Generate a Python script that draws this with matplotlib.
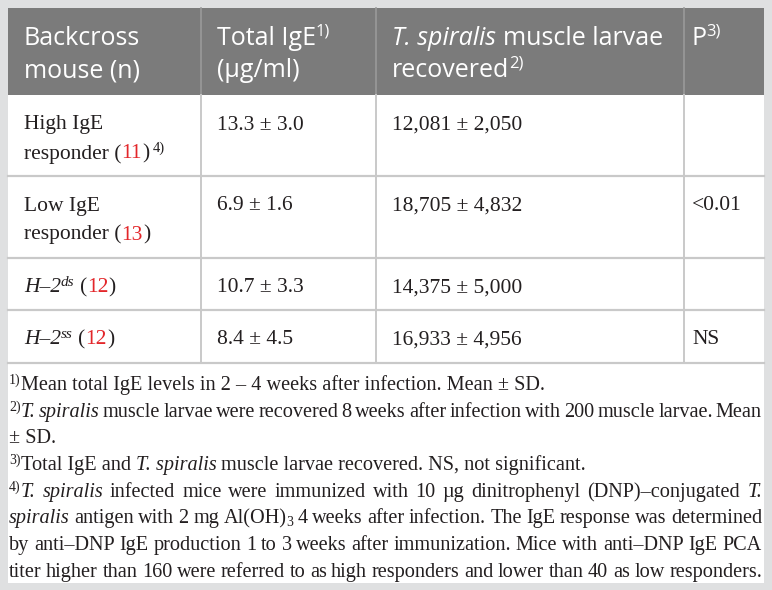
import matplotlib
matplotlib.use("Agg")
import matplotlib.pyplot as plt
from matplotlib.patches import Rectangle
from matplotlib.font_manager import FontProperties, findfont, get_font
from matplotlib.ft2font import LOAD_NO_HINTING

# ---------------- data ----------------
header_line1 = ["Backcross", "Total IgE", "T. spiralis muscle larvae", "P"]
header_line2 = ["mouse (n)", "(µg/ml)", "recovered", ""]
header_sups = [["", ""], ["1)", ""], ["", "2)"], ["3)", ""]]
group_names = ["High IgE responder", "Low IgE responder", "H–2ds", "H–2ss"]
n_mice = [11, 13, 12, 12]
ige_mean = [13.3, 6.9, 10.7, 8.4]
ige_sd = [3.0, 1.6, 3.3, 4.5]
larvae_mean = [12081, 18705, 14375, 16933]
larvae_sd = [2050, 4832, 5000, 4956]
p_values = ["", "<0.01", "", "NS"]

W, H = 772, 590
BG = "#dfe0e1"
HEAD = "#7b7b7b"
GRID = "#c9c9c9"
TXT = "#231f20"
RED = "#e3262a"

SANS = "Open Sans"
SERIF = "Liberation Serif"

fig = plt.figure(figsize=(W / 100, H / 100), dpi=100)
fig.patch.set_facecolor(BG)
ax = fig.add_axes([0, 0, 1, 1])
ax.set_xlim(0, W)
ax.set_ylim(H, 0)
ax.axis("off")

# geometry
L, R, T, B = 8, 764, 8, 583
head_bot = 95
row_lines = [176, 258, 310, 363]
col_lines = [201, 376, 684]
col_text_x = [24, 217, 392, 692]

ax.add_patch(Rectangle((L, T), R - L, B - T, facecolor="white", edgecolor="none", zorder=0))
ax.add_patch(Rectangle((L, T), R - L, head_bot - T, facecolor=HEAD, edgecolor="none", zorder=1))
for x in col_lines:
    ax.plot([x, x], [T, head_bot], color="#9a9a9a", lw=1.2, zorder=2)
    ax.plot([x, x], [head_bot, row_lines[-1]], color=GRID, lw=1.4, zorder=2)
for y in row_lines:
    ax.plot([L, R], [y, y], color=GRID, lw=1.6, zorder=2)


def mk(family, size, style="normal", color=TXT, dy=0.0):
    return dict(family=family, size=size, style=style, color=color, dy=dy)


_fcache = {}


def adv(s, p):
    key = (p["family"], p["style"])
    if key not in _fcache:
        _fcache[key] = findfont(FontProperties(family=p["family"], style=p["style"]))
    f = get_font(_fcache[key])
    f.set_size(p["size"], 100)
    tot = 0.0
    prev = None
    for c in s:
        idx = f.get_char_index(ord(c))
        if prev is not None:
            tot += f.get_kerning(prev, idx, 0) / 64
        g = f.load_char(ord(c), flags=LOAD_NO_HINTING)
        tot += g.linearHoriAdvance / 65536
        prev = idx
    return tot


def put(x, base, s, p):
    ax.text(x, base - p["dy"], s, fontfamily=p["family"], fontsize=p["size"],
            fontstyle=p["style"], color=p["color"], va="baseline", ha="left", zorder=5)


def draw_runs(runs, x0, base, width=None):
    if width is None:
        x = x0
        for text, p in runs:
            core = text.lstrip(" ")
            x += adv(" ", p) * (len(text) - len(core))
            if core.strip():
                put(x, base, core, p)
            x += adv(core, p)
        return
    pieces = []
    for text, p in runs:
        parts = text.split(" ")
        for i, part in enumerate(parts):
            if i > 0:
                pieces.append((None, p))
            if part:
                pieces.append((part, p))
    widths = [adv(" " if s is None else s, p) for s, p in pieces]
    nsp = sum(1 for s, _ in pieces if s is None)
    extra = (width - sum(widths)) / nsp if nsp else 0.0
    x = x0
    for (s, p), w in zip(pieces, widths):
        if s is None:
            x += w + extra
            continue
        put(x, base, s, p)
        x += w


# ---------------- header ----------------
hp = mk(SANS, 18, color="white")
hpi = mk(SANS, 18, style="italic", color="white")
hs = mk(SANS, 12, color="white", dy=9)
for c in range(4):
    for li, (txt, base) in enumerate(zip([header_line1[c], header_line2[c]], [45, 77])):
        if not txt:
            continue
        runs = []
        if txt.startswith("T. spiralis"):
            runs.append(("T. spiralis", hpi))
            runs.append((txt[len("T. spiralis"):], hp))
        else:
            runs.append((txt, hp))
        if header_sups[c][li]:
            runs.append((header_sups[c][li], hs))
        draw_runs(runs, col_text_x[c] if c < 3 else 691, base)

# ---------------- body ----------------
bp = mk(SERIF, 15.5)
bpi = mk(SERIF, 15.5, style="italic")
bred = mk(SERIF, 15.5, color=RED)
bsup = mk(SERIF, 10.5, dy=7)
bsupi = mk(SERIF, 11, style="italic", dy=7)

row_tops = [head_bot] + row_lines[:-1]
for r in range(4):
    base = row_tops[r] + 34.5
    name = group_names[r]
    if name.startswith("H–2"):
        draw_runs([("H–2", bpi), (name[3:], bsupi), (" (", bp), (str(n_mice[r]), bred), (")", bp)],
                  col_text_x[0], base)
    else:
        first, second = name.split(" responder")[0], "responder"
        draw_runs([(first, bp)], col_text_x[0], base)
        runs = [(second + " (", bp), (str(n_mice[r]), bred), (")", bp)]
        if r == 0:
            runs.append((" 4)", bsup))
        draw_runs(runs, col_text_x[0], base + 29)
    draw_runs([(f"{ige_mean[r]:.1f} ± {ige_sd[r]:.1f}", bp)], col_text_x[1], base)
    draw_runs([(f"{larvae_mean[r]:,} ± {larvae_sd[r]:,}", bp)], col_text_x[2], base)
    if p_values[r]:
        draw_runs([(p_values[r], bp)], col_text_x[3], base)

# ---------------- notes ----------------
NS_ = 14.6
npn = mk(SERIF, NS_)
npi = mk(SERIF, NS_, style="italic")
nsup = mk(SERIF, 10, dy=6)
nsub = mk(SERIF, 10, dy=-3)

notes = [
    ([("1)", nsup), ("Mean total IgE levels in 2 – 4 weeks after infection. Mean ± SD.", npn)], False),
    ([("2)", nsup), ("T. spiralis", npi), (" muscle larvae were recovered 8 weeks after infection with 200 muscle larvae. Mean", npn)], True),
    ([("± SD.", npn)], False),
    ([("3)", nsup), ("Total IgE and ", npn), ("T. spiralis", npi), (" muscle larvae recovered. NS, not significant.", npn)], False),
    ([("4)", nsup), ("T. spiralis", npi), (" infected mice were immunized with 10 µg dinitrophenyl (DNP)–conjugated ", npn), ("T.", npi)], True),
    ([("spiralis", npi), (" antigen with 2 mg Al(OH)", npn), ("3", nsub), (" 4 weeks after infection. The IgE response was determined", npn)], True),
    ([("by anti–DNP IgE production 1 to 3 weeks after immunization. Mice with anti–DNP IgE PCA", npn)], True),
    ([("titer higher than 160 were referred to as high responders and lower than 40 as low responders.", npn)], True),
]
note_bases = [390, 417, 443, 470, 497, 523, 550, 577]
for (runs, just), base in zip(notes, note_bases):
    draw_runs(runs, 9, base, width=(762 - 9) if just else None)

fig.savefig("out.png", dpi=100, facecolor=BG)
